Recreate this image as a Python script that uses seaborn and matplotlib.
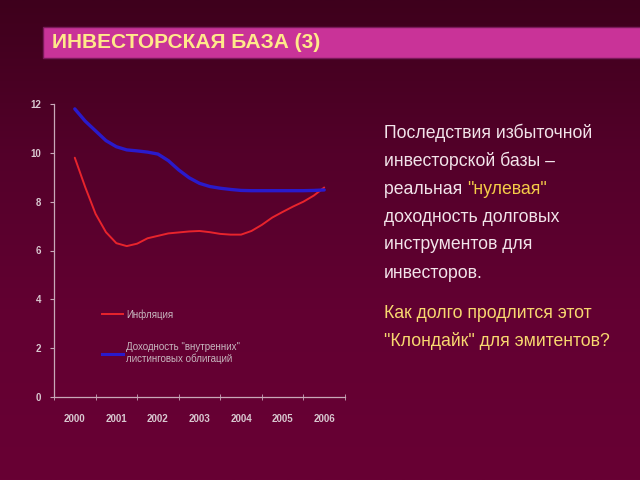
import numpy as np
import pandas as pd
import matplotlib
matplotlib.use("Agg")
import matplotlib.pyplot as plt
import seaborn as sns
from matplotlib.colors import LinearSegmentedColormap
from matplotlib.patches import Rectangle
from matplotlib.lines import Line2D

# ---- data (quarter-year steps) ----
years = [2000.0, 2000.25, 2000.5, 2000.75, 2001.0, 2001.25, 2001.5, 2001.75,
         2002.0, 2002.25, 2002.5, 2002.75, 2003.0, 2003.25, 2003.5, 2003.75,
         2004.0, 2004.25, 2004.5, 2004.75, 2005.0, 2005.25, 2005.5, 2005.75, 2006.0]
inflation = [9.8, 8.6, 7.5, 6.75, 6.3, 6.18, 6.28, 6.5,
             6.6, 6.7, 6.74, 6.78, 6.8, 6.75, 6.68, 6.65,
             6.65, 6.8, 7.05, 7.35, 7.58, 7.8, 8.0, 8.25, 8.58]
bond_yield = [11.8, 11.3, 10.9, 10.5, 10.25, 10.12, 10.08, 10.03,
              9.95, 9.68, 9.3, 8.98, 8.75, 8.62, 8.55, 8.5,
              8.46, 8.45, 8.45, 8.45, 8.45, 8.45, 8.45, 8.46, 8.48]
year_labels = ["2000", "2001", "2002", "2003", "2004", "2005", "2006"]
y_ticks = [0, 2, 4, 6, 8, 10, 12]
series_names = ["Инфляция", "Доходность \"внутренних\"\nлистинговых облигаций"]

title = "ИНВЕСТОРСКАЯ БАЗА (3)"
right_lines = ["Последствия избыточной", "инвесторской базы –", None,
               "доходность долговых", "инструментов для", "инвесторов."]
question_lines = ["Как долго продлится этот", "\"Клондайк\" для эмитентов?"]

df = pd.concat([
    pd.DataFrame({"year": years, "value": inflation, "series": series_names[0]}),
    pd.DataFrame({"year": years, "value": bond_yield, "series": series_names[1]}),
])

W, H = 640, 480
fig = plt.figure(figsize=(6.4, 4.8), dpi=100)

# background gradient
bg = fig.add_axes([0, 0, 1, 1], zorder=-10)
bg.axis("off")
cmap = LinearSegmentedColormap.from_list("bg", ["#3e001c", "#54002a", "#630032", "#680034"])
grad = np.linspace(0, 1, 256).reshape(-1, 1)
bg.imshow(grad, aspect="auto", cmap=cmap, extent=[0, 1, 0, 1], origin="upper")
bg.set_xlim(0, 1)
bg.set_ylim(0, 1)

def fx(px):
    return px / W

def fy(py):
    return 1 - py / H

# title bar
fig.patches.append(Rectangle((fx(43), fy(58)), fx(640 - 43) + 0.01, (58 - 27) / H,
                             transform=fig.transFigure, facecolor="#c93398",
                             edgecolor="#7a1a5a", linewidth=1.0, zorder=1))
fig.text(fx(52), fy(43), title, color="#ffe98a", fontsize=15, fontweight="bold",
         family="Liberation Sans", va="center", ha="left", zorder=2)

# chart axes
ax = fig.add_axes([fx(54), fy(397), fx(345 - 54), (397 - 104) / H])
ax.patch.set_alpha(0)
sns.lineplot(data=df, x="year", y="value", hue="series",
             palette={series_names[0]: "#e8242c", series_names[1]: "#2a1acb"},
             ax=ax, legend=False, estimator=None, sort=False)
lines = ax.get_lines()
lines[0].set_linewidth(1.4)
lines[1].set_linewidth(2.4)
for ln in lines:
    ln.set_solid_joinstyle("round")
    ln.set_solid_capstyle("round")

ax.set_xlim(1999.5, 2006.5)
ax.set_ylim(0, 12)
ax.set_xlabel("")
ax.set_ylabel("")
ax.set_xticks(np.arange(2000, 2007))
ax.set_xticklabels(year_labels)
ax.set_xticks(np.arange(1999.5, 2007, 1.0), minor=True)
ax.set_yticks(y_ticks)
ax.set_yticklabels([str(v) for v in y_ticks])
axis_col = "#c8a8b8"
for s in ["top", "right"]:
    ax.spines[s].set_visible(False)
for s in ["left", "bottom"]:
    ax.spines[s].set_color(axis_col)
    ax.spines[s].set_linewidth(0.9)
ax.tick_params(axis="x", which="major", length=0, pad=12, labelsize=7, labelcolor="#d8c8d0")
ax.tick_params(axis="x", which="minor", length=4, direction="inout", color=axis_col)
ax.tick_params(axis="y", which="major", length=3, direction="out", color=axis_col,
               labelsize=7, labelcolor="#d8c8d0", pad=6)
for lab in ax.get_xticklabels() + ax.get_yticklabels():
    lab.set_fontweight("bold")
    lab.set_family("Liberation Sans")
ax.grid(False)

handles = [Line2D([], [], color="#e8242c", lw=1.4), Line2D([], [], color="#2a1acb", lw=2.2)]
leg = ax.legend(handles, series_names, loc="upper left", bbox_to_anchor=(0.135, 0.33),
                frameon=False, labelcolor="#c8b8c0", handlelength=2.2,
                handletextpad=0.3, labelspacing=2.3, prop={"family": "Liberation Sans", "size": 7})

# right text block
txt_family = ["Liberation Sans Narrow", "Liberation Sans", "DejaVu Sans"]
white = "#f2e4ea"
gold = "#f5cc48"
fs = 12.7
y0 = 133
for i, line in enumerate(right_lines):
    yy = fy(y0 + 28 * i)
    if line is None:
        t = bg.text(fx(384), yy, "реальная ", color=white, fontsize=fs, family=txt_family,
                    va="center", ha="left", transform=fig.transFigure)
        bg.annotate("\"нулевая\"", xy=(1, 0), xycoords=t, va="bottom", ha="left",
                    color=gold, fontsize=fs, family=txt_family)
    else:
        bg.text(fx(384), yy, line, color=white, fontsize=fs, family=txt_family,
                va="center", ha="left", transform=fig.transFigure)
for i, line in enumerate(question_lines):
    bg.text(fx(384), fy(313 + 28 * i), line, color="#f8d870", fontsize=fs, family=txt_family,
            va="center", ha="left", transform=fig.transFigure)

fig.savefig("out.png", dpi=100)
